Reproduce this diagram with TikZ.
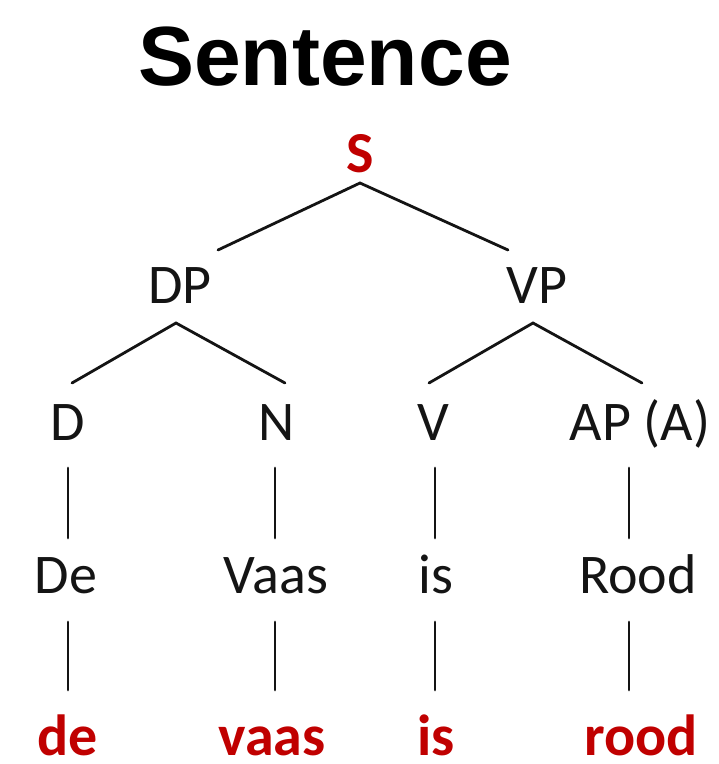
\documentclass[tikz,border=0pt]{standalone}
\usepackage{fontspec}
\setmainfont{Carlito}
\newfontfamily\titlefont{Liberation Sans}
\usetikzlibrary{calc}
\definecolor{wordred}{RGB}{192,0,0}
\definecolor{ink}{RGB}{20,20,20}
\tikzset{
  lbl/.style={anchor=base, inner sep=0pt, text=ink, font=\fontsize{56}{60}\selectfont},
  word/.style={anchor=base, inner sep=0pt, text=wordred, font=\fontsize{58}{62}\selectfont\bfseries},
  branch/.style={draw=ink, line width=2.8pt, line cap=round, line join=miter},
}
\begin{document}
\begin{tikzpicture}[x=1pt, y=-1pt]
\useasboundingbox (0,0) rectangle (719,764);

% title
\node[anchor=base, inner sep=0pt, font=\titlefont\fontsize{84}{88}\selectfont\bfseries] (title) at (325,85) {Sentence};

% tree labels
\node[word] (S) at (360,172) {S};
\node[lbl] (DP) at (180,303) {DP};
\node[lbl] (VP) at (537,303) {VP};
\node[lbl] (D) at (68,440) {D};
\node[lbl] (N) at (277,440) {N};
\node[lbl] (V) at (433,440) {V};
\node[lbl] (AP) at (640,440) {AP (A)};
\node[lbl] (De) at (66,593) {De};
\node[lbl] (Vaas) at (276,593) {Vaas};
\node[lbl] (is1) at (436,593) {is};
\node[lbl] (Rood) at (638,593) {Rood};
\node[word] (de) at (68,755) {de};
\node[word] (vaas) at (272,755) {vaas};
\node[word] (is2) at (436,755) {is};
\node[word] (rood) at (641,755) {rood};

% branch end points
\coordinate (S-apex) at ($(S.base)+(0,11)$);
\coordinate (DP-top) at ($(DP.base)+(38,-53)$);
\coordinate (VP-top) at ($(VP.base)+(-29,-53)$);
\coordinate (DP-apex) at ($(DP.base)+(-4,20)$);
\coordinate (D-top) at ($(D.base)+(4,-57)$);
\coordinate (N-top) at ($(N.base)+(8,-57)$);
\coordinate (VP-apex) at ($(VP.base)+(-4,20)$);
\coordinate (V-top) at ($(V.base)+(-4,-57)$);
\coordinate (AP-top) at ($(AP.base)+(2,-57)$);

% branches
\draw[branch] (DP-top) -- (S-apex) -- (VP-top);
\draw[branch] (D-top) -- (DP-apex) -- (N-top);
\draw[branch] (V-top) -- (VP-apex) -- (AP-top);

% unary links
\foreach \a/\b/\x in {D/De/68, N/Vaas/275, V/is1/435, AP/Rood/629}
  \draw[branch] (\x,468) coordinate (\a-low) -- (\x,538) coordinate (\b-high);
\foreach \a/\b/\x in {De/de/68, Vaas/vaas/275, is1/is2/435, Rood/rood/629}
  \draw[branch] (\x,622) coordinate (\a-low) -- (\x,690) coordinate (\b-high);
\end{tikzpicture}
\end{document}
